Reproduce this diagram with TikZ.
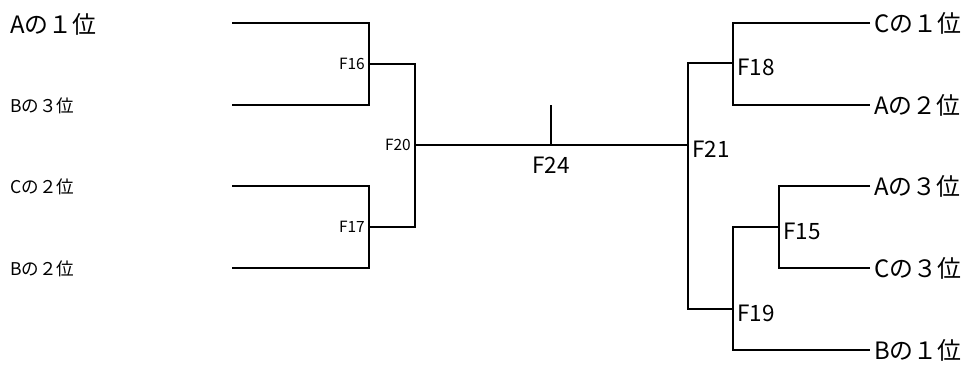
\documentclass[tikz,border=0pt]{standalone}
\usepackage{fontspec}
\setmainfont{Noto Sans CJK JP}
\usetikzlibrary{positioning}
\tikzset{
  bracket/.style={draw=black, line width=1.5pt},
  team/.style={inner sep=0pt, anchor=west, font=\fontsize{17}{20}\selectfont},
  teamsm/.style={team, font=\fontsize{12.5}{14}\selectfont},
  game/.style={inner sep=0pt, font=\fontsize{16}{18}\selectfont},
  gamesm/.style={game, font=\fontsize{11}{13}\selectfont},
}

\begin{document}
\begin{tikzpicture}[x=0.025cm, y=-0.025cm]
  \useasboundingbox (0,0) rectangle (966,365);

  % left half
  \coordinate (s1) at (232,23);
  \coordinate (s2) at (232,105);
  \coordinate (s3) at (232,186);
  \coordinate (s4) at (232,268);
  \coordinate (f16) at (369,64);
  \coordinate (f17) at (369,227);
  \coordinate (f20) at (415,145);

  % final
  \coordinate (f24) at (551,145);
  \coordinate (f24top) at (551,105);

  % right half
  \coordinate (f21) at (688,145);
  \coordinate (f18) at (733,63);
  \coordinate (f19) at (733,309);
  \coordinate (f15) at (779,227);
  \coordinate (e1) at (870,23);
  \coordinate (e2) at (870,105);
  \coordinate (e3) at (870,186);
  \coordinate (e4) at (870,268);
  \coordinate (e5) at (870,350);

  \draw[bracket] (s1) -| (f16) |- (s2);
  \draw[bracket] (s3) -| (f17) |- (s4);
  \draw[bracket] (f16) -| (f20) |- (f17);
  \draw[bracket] (f20) -- (f21);
  \draw[bracket] (f24) -- (f24top);
  \draw[bracket] (f18) -| (f21) |- (f19);
  \draw[bracket] (e1) -| (f18) |- (e2);
  \draw[bracket] (e3) -| (f15) |- (e4);
  \draw[bracket] (f15) -| (f19) |- (e5);

  % teams
  \node[team] (tA1) at (10,24) {Aの１位};
  \node[teamsm] (tB3) at (10,106) {Bの３位};
  \node[teamsm] (tC2) at (10,187) {Cの２位};
  \node[teamsm] (tB2) at (10,269) {Bの２位};
  \node[team, right=4 of e1] (tC1) {Cの１位};
  \node[team, right=4 of e2] (tA2) {Aの２位};
  \node[team, right=4 of e3] (tA3) {Aの３位};
  \node[team, right=4 of e4] (tC3) {Cの３位};
  \node[team, right=4 of e5] (tB1) {Bの１位};

  % games
  \node[gamesm, left=4 of f16] (g16) {F16};
  \node[gamesm, left=4 of f17] (g17) {F17};
  \node[gamesm, left=4 of f20] (g20) {F20};
  \node[game, below=8pt of f24] (g24) {F24};
  \node[game, right=4 of f21, yshift=-3] (g21) {F21};
  \node[game, right=4 of f18, yshift=-3] (g18) {F18};
  \node[game, right=4 of f15, yshift=-3] (g15) {F15};
  \node[game, right=4 of f19, yshift=-3] (g19) {F19};
\end{tikzpicture}
\end{document}
